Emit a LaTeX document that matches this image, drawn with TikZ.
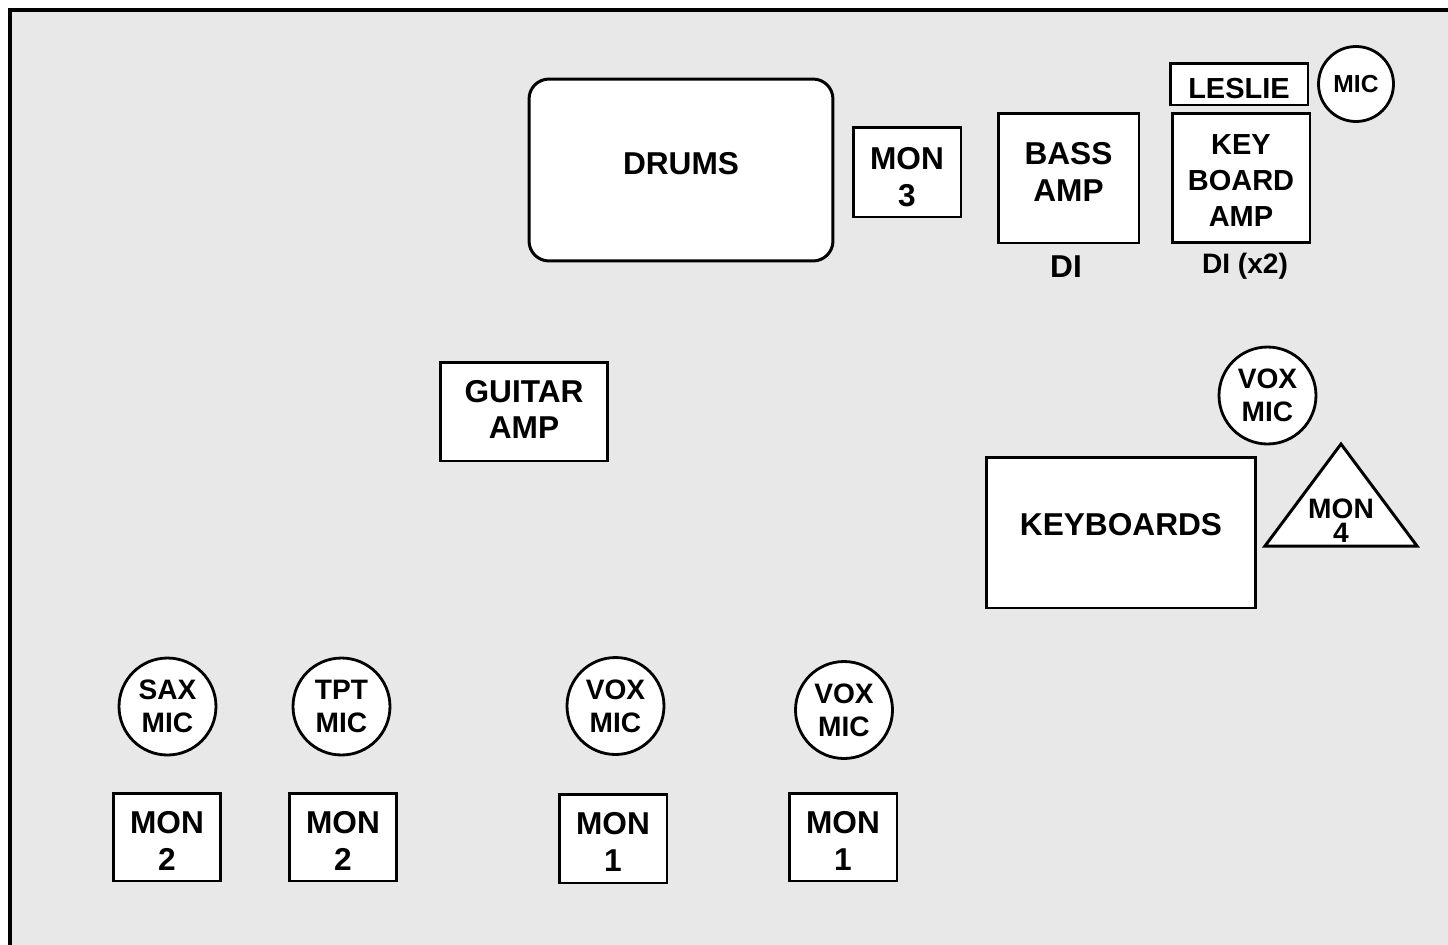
\documentclass[tikz,border=0pt]{standalone}
\usepackage{fontspec}
\setmainfont{Liberation Sans}
\usepackage{tikz}
\usetikzlibrary{positioning}

\definecolor{stagefloor}{HTML}{E8E8E8}

\tikzset{
  gear/.style={draw, fill=white, line width=1.7pt, align=center, inner sep=0pt,
    font=\bfseries\fontsize{18}{21}\selectfont},
  wedge/.style={gear, minimum width=2.16cm, minimum height=1.76cm, text height=37.8pt},
  micro/.style={circle, draw, fill=white, line width=1.6pt, align=center,
    inner sep=0pt, minimum size=1.94cm, font=\bfseries\fontsize{16}{18.8}\selectfont},
  tag/.style={font=\bfseries\fontsize{18}{21}\selectfont}
}

\begin{document}
\begin{tikzpicture}[x=0.02cm, y=-0.02cm]

% --- Stage floor and frame ---
\useasboundingbox (0, 0) rectangle (1448, 944);
\fill[white] (0, 0) rectangle (1448, 944);
\draw[line width=2.3pt, fill=stagefloor] (10, 10) rectangle (1470, 970);

% --- Back line ---
\node[gear, rounded corners=0.4cm, minimum width=6.08cm, minimum height=3.64cm,
  text depth=8pt] (drums) at (681, 170) {DRUMS};
\node[wedge, minimum height=1.8cm, text height=39pt] (mon3) at (907, 172) {MON\\3};
\node[gear, minimum width=2.82cm, minimum height=2.6cm, text depth=6.8pt]
  (bassamp) at (1068.5, 178) {BASS\\AMP};
\node[tag] (bassdi) at (1066, 267) {DI};

% --- Keyboard rig ---
\node[gear, minimum width=2.76cm, minimum height=0.84cm, text height=16.6pt,
  font=\bfseries\fontsize{16.5}{19}\selectfont] (leslie) at (1239, 84) {LESLIE};
\node[micro, minimum size=1.5cm, font=\bfseries\fontsize{14}{16}\selectfont]
  (lesliemic) at (1356, 84) {MIC};
\node[gear, minimum width=2.76cm, minimum height=2.58cm, text height=55.3pt,
  font=\bfseries\fontsize{16.5}{20.5}\selectfont] (kbamp) at (1241, 178)
  {KEY\\BOARD\\AMP};
\node[tag, font=\bfseries\fontsize{16}{19}\selectfont] (kbdi) at (1245, 266) {DI (x2)};

\node[gear, minimum width=3.36cm, minimum height=1.98cm, text depth=2.3pt]
  (guitaramp) at (524, 411.5) {GUITAR\\AMP};

\node[micro] (keysvox) at (1267.5, 395.5) {VOX\\MIC};
\node[gear, minimum width=5.4cm, minimum height=3.02cm, text depth=9.7pt]
  (keyboards) at (1121, 532.5) {KEYBOARDS};

% --- Wedge for the keys ---
\coordinate (mon4top) at (1341, 444);
\coordinate (mon4left) at (1265, 546);
\coordinate (mon4right) at (1417, 546);
\draw[line width=1.7pt, fill=white, line join=miter]
  (mon4top) -- (mon4left) -- (mon4right) -- cycle;
\node[font=\bfseries\fontsize{16}{13.5}\selectfont, align=center, inner sep=0pt]
  (mon4) at (1341, 521) {MON\\4};

% --- Front line: mics ---
\node[micro] (saxmic) at (167.5, 706.5) {SAX\\MIC};
\node[micro] (tptmic) at (341.5, 706.5) {TPT\\MIC};
\node[micro] (voxone) at (615.5, 706) {VOX\\MIC};
\node[micro] (voxtwo) at (844, 710) {VOX\\MIC};

% --- Front line: wedges ---
\node[wedge] (sax2) at (167, 837) {MON\\2};
\node[wedge] (tpt2) at (343, 837) {MON\\2};
\node[wedge, minimum height=1.78cm] (vox1) at (613, 838.5) {MON\\1};
\node[wedge] (voxb1) at (843, 837) {MON\\1};

\end{tikzpicture}
\end{document}
